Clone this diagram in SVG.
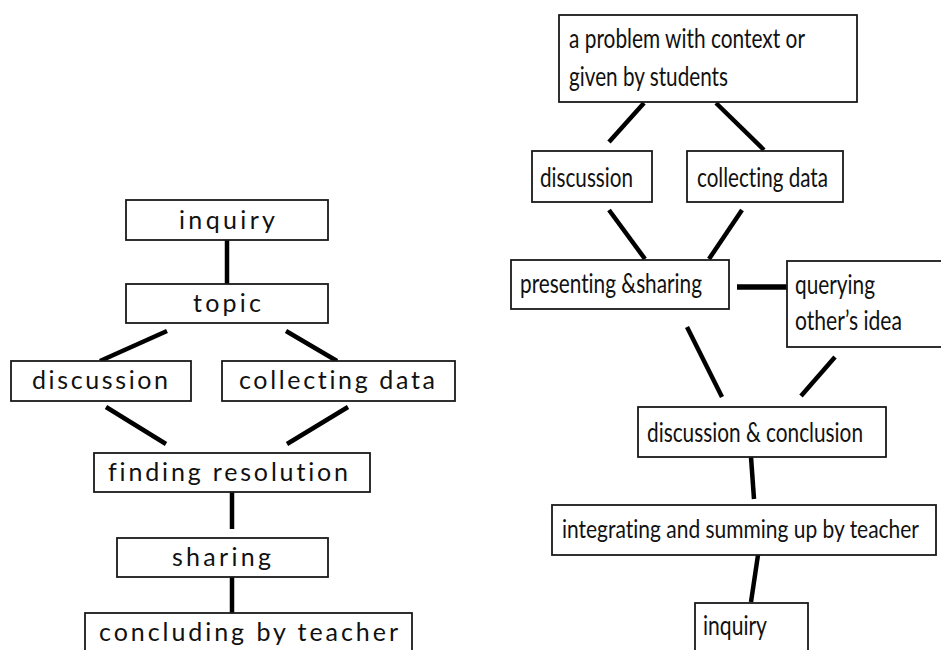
<svg xmlns="http://www.w3.org/2000/svg" width="941" height="650" viewBox="0 0 941 650">
  <style>
    .box { fill: #ffffff; stroke: #1a1a1a; stroke-width: 1.8; }
    .link { stroke: #000000; stroke-width: 4.5; stroke-linecap: butt; fill: none; }
    .lt { font-family: Lato, "Open Sans", "Liberation Sans", sans-serif; font-size: 25px; fill: #111111; font-variant-ligatures: none; }
    .rt { font-family: Lato, "Open Sans", "Liberation Sans", sans-serif; font-size: 27px; fill: #111111; font-variant-ligatures: none; }
  </style>
  <rect width="941" height="650" fill="#ffffff"/>

  <!-- connectors -->
  <g id="connectors">
    <!-- left chart -->
    <line class="link" x1="227" y1="240" x2="227" y2="284"/>
    <line class="link" x1="167" y1="331" x2="100" y2="361"/>
    <line class="link" x1="286" y1="331" x2="337" y2="361"/>
    <line class="link" x1="106" y1="407" x2="166" y2="444"/>
    <line class="link" x1="348" y1="407" x2="287" y2="444"/>
    <line class="link" x1="232" y1="492" x2="232" y2="529"/>
    <line class="link" x1="232" y1="577" x2="232" y2="613"/>
    <!-- right chart -->
    <line class="link" x1="644" y1="103" x2="609" y2="142"/>
    <line class="link" x1="716" y1="103" x2="764" y2="150"/>
    <line class="link" x1="609" y1="210" x2="645" y2="259"/>
    <line class="link" x1="742" y1="210" x2="709" y2="259"/>
    <line class="link" x1="737" y1="287" x2="787" y2="287" style="stroke-width:5.5"/>
    <line class="link" x1="687" y1="327" x2="722" y2="397"/>
    <line class="link" x1="835" y1="357" x2="801" y2="396"/>
    <line class="link" x1="751" y1="457" x2="754" y2="499"/>
    <line class="link" x1="758" y1="555" x2="751" y2="602"/>
  </g>

  <!-- left chart nodes -->
  <g id="l-inquiry">
    <rect class="box" x="126" y="200" width="202" height="40"/>
    <text class="lt" x="179" y="229" textLength="96" lengthAdjust="spacing">inquiry</text>
  </g>
  <g id="l-topic">
    <rect class="box" x="126" y="284" width="202" height="39"/>
    <text class="lt" x="193" y="312" textLength="68" lengthAdjust="spacing">topic</text>
  </g>
  <g id="l-discussion">
    <rect class="box" x="11" y="361" width="180" height="40"/>
    <text class="lt" x="32" y="389" textLength="136" lengthAdjust="spacing">discussion</text>
  </g>
  <g id="l-collecting">
    <rect class="box" x="222" y="361" width="233" height="40"/>
    <text class="lt" x="239" y="389" textLength="196" lengthAdjust="spacing">collecting data</text>
  </g>
  <g id="l-finding">
    <rect class="box" x="94" y="453" width="276" height="39"/>
    <text class="lt" x="108" y="481" textLength="240" lengthAdjust="spacing">finding resolution</text>
  </g>
  <g id="l-sharing">
    <rect class="box" x="117" y="538" width="211" height="39"/>
    <text class="lt" x="172" y="566" textLength="99" lengthAdjust="spacing">sharing</text>
  </g>
  <g id="l-concluding">
    <rect class="box" x="85" y="613" width="327" height="45"/>
    <text class="lt" x="99" y="641" textLength="299" lengthAdjust="spacing">concluding by teacher</text>
  </g>

  <!-- right chart nodes -->
  <g id="r-problem">
    <rect class="box" x="559" y="15" width="298" height="87"/>
    <text class="rt" x="569" y="48" textLength="236" lengthAdjust="spacingAndGlyphs">a problem with context or</text>
    <text class="rt" x="569" y="86" textLength="159" lengthAdjust="spacingAndGlyphs">given by students</text>
  </g>
  <g id="r-discussion">
    <rect class="box" x="532" y="151" width="120" height="51"/>
    <text class="rt" x="540" y="187" textLength="93" lengthAdjust="spacingAndGlyphs">discussion</text>
  </g>
  <g id="r-collecting">
    <rect class="box" x="687" y="151" width="156" height="51"/>
    <text class="rt" x="697" y="187" textLength="131" lengthAdjust="spacingAndGlyphs">collecting data</text>
  </g>
  <g id="r-presenting">
    <rect class="box" x="511" y="260" width="218" height="49"/>
    <text class="rt" x="520" y="293" textLength="182" lengthAdjust="spacingAndGlyphs">presenting &amp;sharing</text>
  </g>
  <g id="r-querying">
    <rect class="box" x="787" y="261" width="170" height="86"/>
    <text class="rt" x="795" y="294" textLength="80" lengthAdjust="spacingAndGlyphs">querying</text>
    <text class="rt" x="795" y="330" textLength="107" lengthAdjust="spacingAndGlyphs">other’s idea</text>
  </g>
  <g id="r-conclusion">
    <rect class="box" x="638" y="407" width="248" height="50"/>
    <text class="rt" x="647" y="442" textLength="216" lengthAdjust="spacingAndGlyphs">discussion &amp; conclusion</text>
  </g>
  <g id="r-integrating">
    <rect class="box" x="552" y="505" width="384" height="50"/>
    <text class="rt" x="562" y="538" textLength="357" lengthAdjust="spacingAndGlyphs" style="font-size:25px">integrating and summing up by teacher</text>
  </g>
  <g id="r-inquiry">
    <rect class="box" x="695" y="603" width="113" height="55"/>
    <text class="rt" x="703" y="635" textLength="64" lengthAdjust="spacingAndGlyphs">inquiry</text>
  </g>
</svg>
